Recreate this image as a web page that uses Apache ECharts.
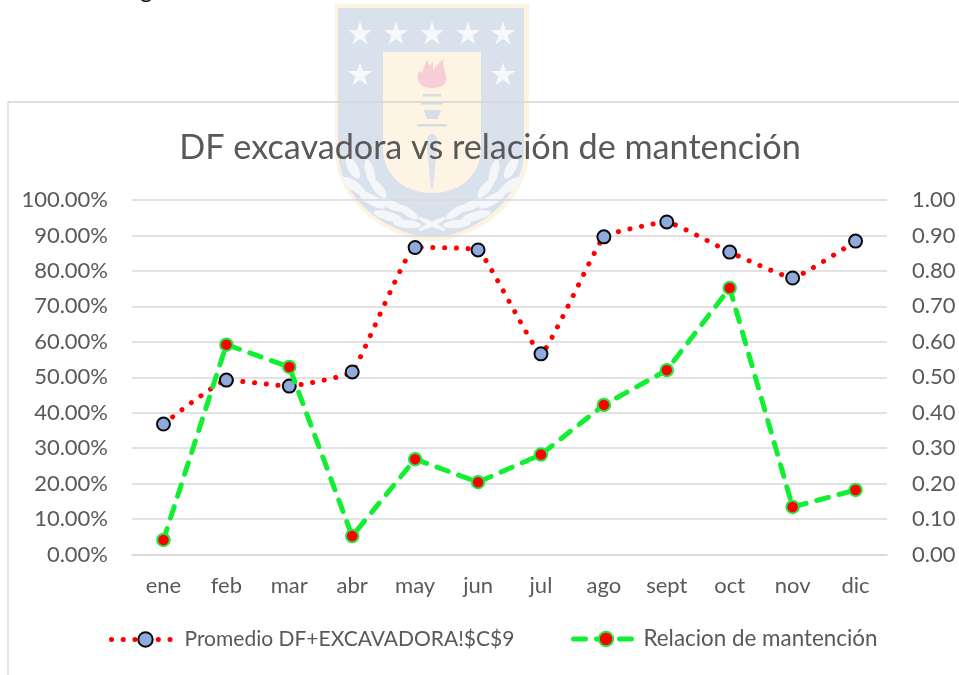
<!DOCTYPE html>
<html><head><meta charset="utf-8">
<style>html,body{margin:0;padding:0;background:#fff}#c{width:959px;height:675px}</style>
<script src="https://cdn.jsdelivr.net/npm/echarts@6/dist/echarts.min.js"></script>
</head><body><div id="c"></div>
<script>
const categories = ['ene','feb','mar','abr','may','jun','jul','ago','sept','oct','nov','dic'];
const promedioDF = [0.368,0.492,0.475,0.515,0.866,0.859,0.566,0.896,0.938,0.853,0.780,0.884];
const relacionMantencion = [0.041,0.592,0.529,0.052,0.269,0.204,0.282,0.422,0.520,0.752,0.134,0.182];
const seriesNames = ['Promedio DF+EXCAVADORA!$C$9','Relacion de mantención'];
const chartTitle = 'DF excavadora vs relación de mantención';
const FONT = 'Lato, Carlito, sans-serif';
const TXT = '#595959';

let shapeCount = 0;
function pathEl(d,fill,z){
  const name='decoShape'+(shapeCount++);
  echarts.graphic.registerShape(name,echarts.graphic.extendPath(d,{}));
  return {type:name,z:z,silent:true,style:{fill:fill}};
}
function star(cx,cy,r){
  const pts=[];
  for(let i=0;i<10;i++){
    const a=-Math.PI/2+i*Math.PI/5, q=i%2?r*0.38:r;
    pts.push([cx+q*Math.cos(a),cy+q*Math.sin(a)]);
  }
  return {type:'polygon',z:-5,shape:{points:pts},style:{fill:'#f6f8fb'},silent:true};
}
function leaf(cx,cy,rx,ry,deg){
  return {type:'ellipse',z:-4,x:cx,y:cy,rotation:deg*Math.PI/180,shape:{cx:0,cy:0,rx:rx,ry:ry},style:{fill:'#f4f6f9'},silent:true};
}
const deco = [
  pathEl('M335 4 H529 V150 C529 205 472 241 432 241 C392 241 335 205 335 150 Z','#fdf3e1',-8),
  pathEl('M338 8 H524 V150 C524 202 470 237 432 237 C394 237 338 202 338 150 Z','#d9e1ec',-7),
  pathEl('M383 52 H481 V148 C481 175 460 193 432 193 C404 193 383 175 383 148 Z','#fef4e4',-6),
  star(360,34,13),star(396,34,13),star(432,34,13),star(468,34,13),star(503,34,13),star(360,75,13),star(503,75,13),
  pathEl('M418 78 C417 72 421 68 422 74 C424 68 424 64 428 60 C428 66 430 66 433 61 L433 70 C436 66 439 62 444 59 C441 66 447 72 446 80 C445 86 440 88 432 88 C424 88 419 86 418 78 Z','#f8cdd6',-5),
  {type:'rect',z:-5,silent:true,shape:{x:423,y:94,width:18,height:2.5},style:{fill:'#d9dde2'}},
  {type:'rect',z:-5,silent:true,shape:{x:421,y:102,width:22,height:2.5},style:{fill:'#d9dde2'}},
  {type:'polygon',z:-5,silent:true,shape:{points:[[424,110],[441,110],[438,119],[427,119]]},style:{fill:'#d5deea'}},
  {type:'rect',z:-5,silent:true,shape:{x:417,y:124,width:30,height:2.5},style:{fill:'#d9dde2'}},
  pathEl('M427 140 C427 132 437 132 437 140 C437 155 434 175 433 188 H431 C430 175 427 155 427 140 Z','#dbe2ec',-5),
  leaf(353,168,12,5,-62),leaf(370,172,13,4.5,-75),leaf(354,186,14,5,-35),leaf(378,188,12,4.5,-50),
  leaf(372,200,15,5,-30),leaf(392,205,13,4.5,-25),leaf(388,216,15,4.5,-15),leaf(408,212,12,4,-35),leaf(407,224,14,4,-5),
  leaf(511,168,12,5,62),leaf(494,172,13,4.5,75),leaf(510,186,14,5,35),leaf(486,188,12,4.5,50),
  leaf(492,200,15,5,30),leaf(472,205,13,4.5,25),leaf(476,216,15,4.5,15),leaf(456,212,12,4,35),leaf(457,224,14,4,5),
  leaf(432,224,15,2.5,-25),leaf(432,224,15,2.5,25),
  {type:'line',z:-2,silent:true,shape:{x1:8,y1:102,x2:8,y2:675},style:{stroke:'#dcdcdc',lineWidth:1.5}},
  {type:'line',z:-2,silent:true,shape:{x1:8,y1:102,x2:959,y2:102},style:{stroke:'#d4d4d4',lineWidth:1.5}},
  {type:'text',z:1,silent:true,x:140,y:-22,style:{text:'g',font:'24px '+FONT,fill:'#111'}}
];

const chart = echarts.init(document.getElementById('c'),null,{renderer:'canvas'});
chart.setOption({
  animation:false,
  backgroundColor:'#ffffff',
  textStyle:{fontFamily:FONT},
  title:{text:chartTitle,left:485,top:126,textAlign:'center',textStyle:{fontFamily:FONT,fontWeight:'normal',fontSize:34.2,color:TXT}},
  legend:[
    {left:104,top:624,itemWidth:68,itemHeight:18,itemGap:10,lineStyle:{width:5,cap:'round'},
     textStyle:{fontFamily:FONT,fontSize:21,color:TXT},data:[seriesNames[0]]},
    {left:566,top:623,itemWidth:65,itemHeight:18,itemGap:10,lineStyle:{width:5,cap:'round'},
     textStyle:{fontFamily:FONT,fontSize:22.4,color:TXT},data:[seriesNames[1]]}
  ],
  grid:{left:132,right:72,top:200,bottom:120.5,containLabel:false},
  xAxis:{type:'category',data:categories,boundaryGap:true,
    axisTick:{show:false},axisLine:{show:true,lineStyle:{color:'#d9d9d9',width:1.5}},
    axisLabel:{fontFamily:FONT,fontSize:22,color:TXT,margin:20}},
  yAxis:[
    {type:'value',min:0,max:1,interval:0.1,position:'left',
     axisLabel:{fontFamily:FONT,fontSize:22,color:TXT,margin:24,formatter:v=>(v*100).toFixed(2)+'%'},
     axisLine:{show:false},axisTick:{show:false},splitLine:{lineStyle:{color:'#d9d9d9',width:1.5}}},
    {type:'value',min:0,max:1,interval:0.1,position:'right',
     axisLabel:{fontFamily:FONT,fontSize:22,color:TXT,margin:25,formatter:v=>v.toFixed(2)},
     axisLine:{show:false},axisTick:{show:false},splitLine:{show:false}}
  ],
  series:[
    {name:seriesNames[0],type:'line',yAxisIndex:0,data:promedioDF,smooth:0.1,z:3,
     symbol:'circle',symbolSize:13,
     lineStyle:{color:'#ff0000',width:5,type:[0.1,11.6],cap:'round'},
     itemStyle:{color:'#8faadc',borderColor:'#0a0a0a',borderWidth:2,opacity:1}},
    {name:seriesNames[1],type:'line',yAxisIndex:1,data:relacionMantencion,smooth:false,z:4,
     symbol:'circle',symbolSize:12.5,
     lineStyle:{color:'#12ef33',width:5,type:[12,11],cap:'round'},
     itemStyle:{color:'#ff0000',borderColor:'#22e83f',borderWidth:2,opacity:1}}
  ],
  graphic:deco
});
</script></body></html>
